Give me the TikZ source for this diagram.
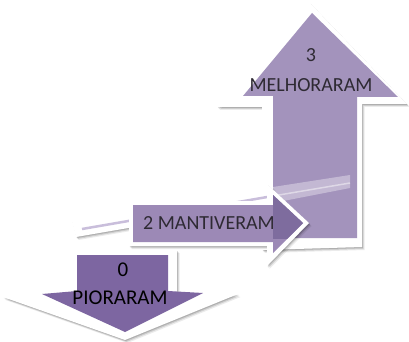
\documentclass[tikz,border=0pt]{standalone}
\usepackage{fontspec}
\setmainfont{Carlito}
\usetikzlibrary{shadows}
\definecolor{upfill}{HTML}{A393BC}
\definecolor{rightfill}{HTML}{9C89B6}
\definecolor{overlapfill}{HTML}{7E6C9E}
\definecolor{downfill}{HTML}{7D66A1}
\definecolor{bandline}{HTML}{C9BEDB}
\definecolor{labelink}{HTML}{2E2A33}
\tikzset{
  softshadow/.style={
    general shadow={shadow xshift=2.5pt, shadow yshift=-3pt, opacity=0.08, fill=black},
    general shadow={shadow xshift=1.5pt, shadow yshift=-2pt, opacity=0.12, fill=black},
    general shadow={shadow xshift=0.8pt, shadow yshift=-1pt, opacity=0.15, fill=black}},
  frame/.style={fill=white, softshadow},
  label/.style={text=labelink, font=\fontsize{20}{24}\selectfont, inner sep=0pt},
  biglabel/.style={label, text=black, font=\fontsize{21}{24}\selectfont},
}
\begin{document}
\begin{tikzpicture}[x=1pt, y=-1pt]
\useasboundingbox (0,0) rectangle (409,342);

% upward arrow: white frame and purple body
\path[frame] (310,3) -- (407,104) -- (362,104) -- (362,247) -- (262,250) -- (262,107) -- (217,107) -- cycle;
\fill[upfill] (312,13) -- (398,97) -- (357,97) -- (357,238) -- (273,238) -- (273,96) -- (243,96) -- cycle;

% receding side of the horizontal arrow
\path[frame] (72,221) -- (273,187) -- (273,203) -- (76,237) -- cycle;
\fill[white, opacity=0.35] (273,187) -- (350,175) -- (350,188) -- (273,203) -- cycle;
\draw[bandline, line width=2.5pt] (82,229) -- (273,196);
\draw[white, opacity=0.45, line width=1.5pt] (273,196) -- (350,183);

% horizontal arrow
\path[frame] (129,201) -- (267,201) -- (267,184) -- (309,223) -- (267,266) -- (267,246) -- (129,246) -- cycle;
\fill[rightfill] (133,205) -- (273,205) -- (273,195) -- (303,223) -- (273,253) -- (273,242) -- (133,242) -- cycle;
\begin{scope}
  \clip (273,96) rectangle (357,238);
  \fill[overlapfill] (133,205) -- (273,205) -- (273,195) -- (303,223) -- (273,253) -- (273,242) -- (133,242) -- cycle;
\end{scope}

% downward arrow
\path[frame] (68,250) -- (177,250) -- (177,292) -- (238,294) -- (125,340) -- (3,297) -- (68,292) -- cycle;
\fill[downfill] (77,255) -- (168,255) -- (168,291) -- (203,293) -- (125,332) -- (42,294) -- (77,291) -- cycle;

% labels
\node[label] (upnum) at (311,55) {3};
\node[label] (uptext) at (311,85) {MELHORARAM};
\node[label] (midtext) at (209,223) {2 MANTIVERAM};
\node[biglabel] (downnum) at (123,270) {0};
\node[biglabel] (downtext) at (120,298) {PIORARAM};
\end{tikzpicture}
\end{document}
